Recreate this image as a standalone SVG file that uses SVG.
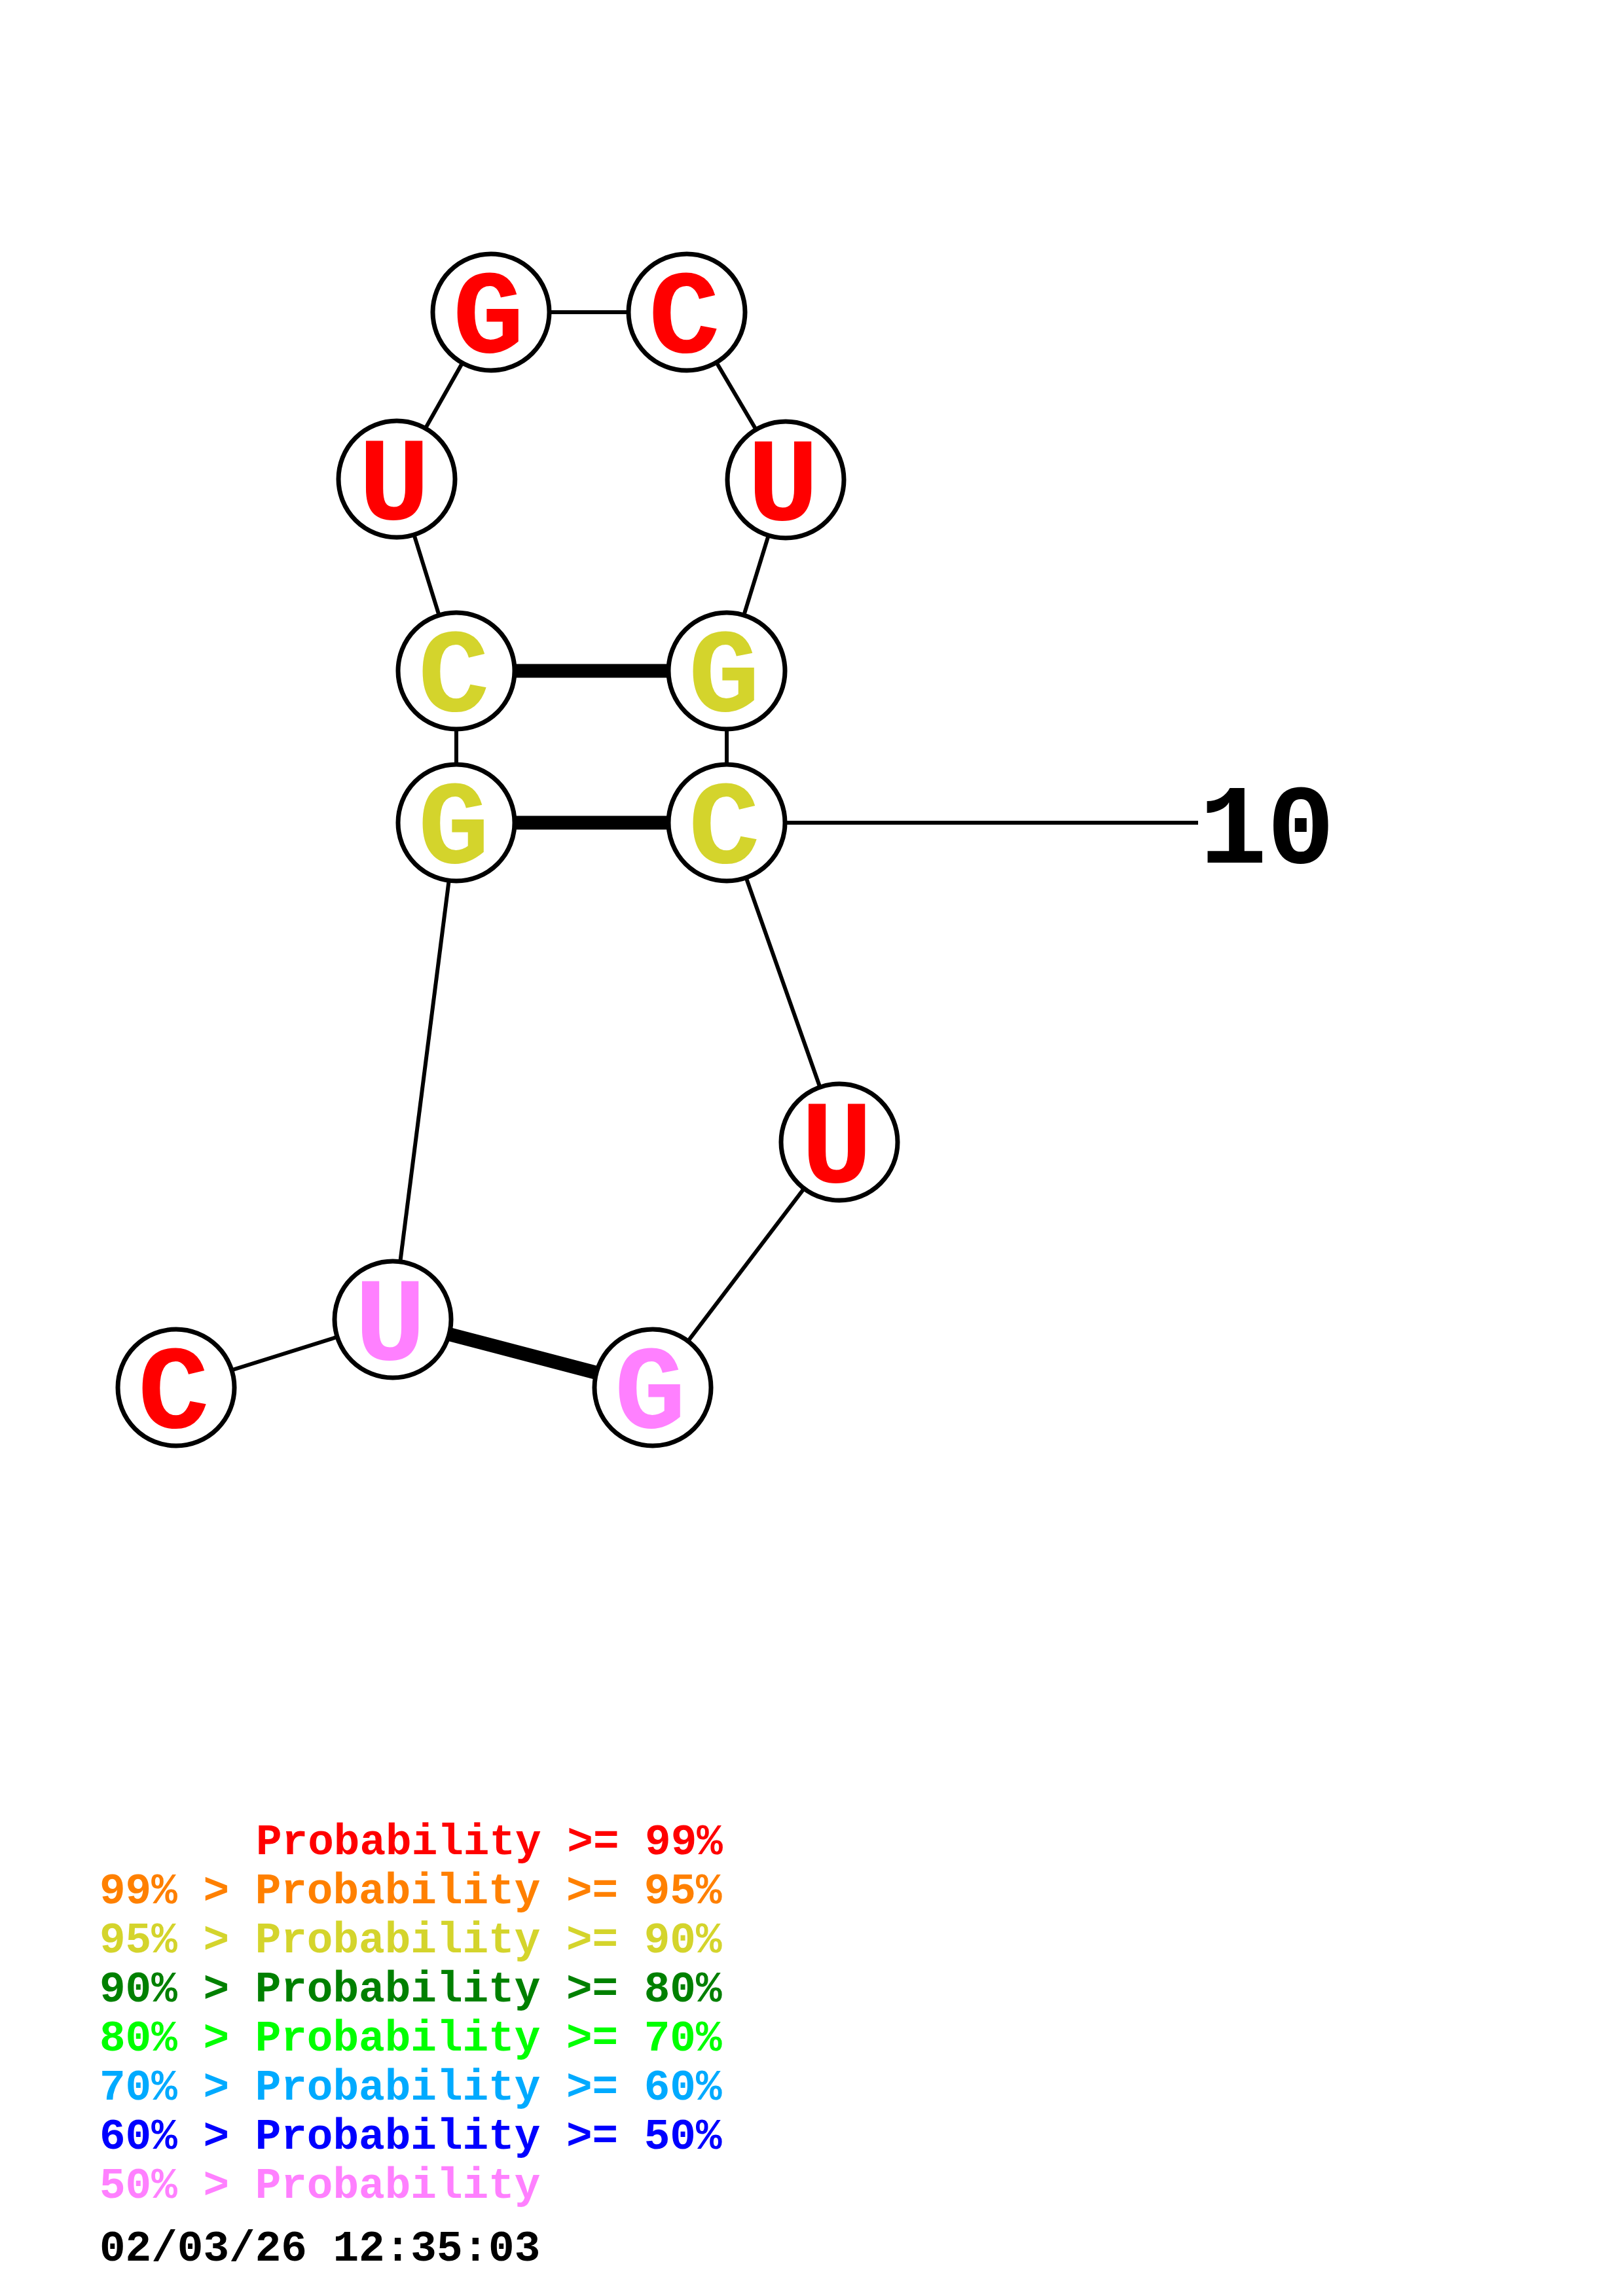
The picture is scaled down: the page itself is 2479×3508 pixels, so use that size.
<svg xmlns="http://www.w3.org/2000/svg" width="2479" height="3508" viewBox="0 0 2479 3508">
<style>
.bb{stroke:#000;stroke-width:6;fill:none}
.bp{stroke:#000;stroke-width:21;fill:none}
.nd{fill:#fff;stroke:#000;stroke-width:7}
.lt{font-family:"Liberation Mono","Courier New",monospace;font-weight:bold;font-size:182px;text-anchor:middle}
.lg{font-family:"Liberation Mono","Courier New",monospace;font-weight:bold;font-size:66px}
.r{fill:#FF0000}.o{fill:#FF8000}.y{fill:#D4D42C}.dg{fill:#008000}.lgn{fill:#00FF00}.sb{fill:#00AAFF}.b{fill:#0000FF}.p{fill:#FF80FF}.k{fill:#000}
</style>
<rect width="2479" height="3508" fill="#fff"/>
<g id="connectors">
<line class="bb" x1="269" y1="2120" x2="600" y2="2016"/>
<line class="bb" x1="600" y1="2016" x2="697" y2="1257"/>
<line class="bb" x1="697" y1="1257" x2="697" y2="1025"/>
<line class="bb" x1="697" y1="1025" x2="606" y2="732"/>
<line class="bb" x1="606" y1="732" x2="750" y2="477"/>
<line class="bb" x1="750" y1="477" x2="1049" y2="477"/>
<line class="bb" x1="1049" y1="477" x2="1200" y2="733"/>
<line class="bb" x1="1200" y1="733" x2="1110" y2="1025"/>
<line class="bb" x1="1110" y1="1025" x2="1110" y2="1257"/>
<line class="bb" x1="1110" y1="1257" x2="1282" y2="1745"/>
<line class="bb" x1="1282" y1="1745" x2="997" y2="2120"/>
<line class="bp" x1="697" y1="1025" x2="1110" y2="1025"/>
<line class="bp" x1="697" y1="1257" x2="1110" y2="1257"/>
<line class="bp" x1="600" y1="2016" x2="997" y2="2120"/>
<line class="bb" x1="1110" y1="1257" x2="1830" y2="1257"/>
</g>
<g id="n1"><circle class="nd" cx="269" cy="2120" r="89"/><text class="lt r" x="265" y="2181">C</text></g>
<g id="n2"><circle class="nd" cx="600" cy="2016" r="89"/><text class="lt p" x="596" y="2077">U</text></g>
<g id="n3"><circle class="nd" cx="697" cy="1257" r="89"/><text class="lt y" x="693" y="1318">G</text></g>
<g id="n4"><circle class="nd" cx="697" cy="1025" r="89"/><text class="lt y" x="693" y="1086">C</text></g>
<g id="n5"><circle class="nd" cx="606" cy="732" r="89"/><text class="lt r" x="602" y="793">U</text></g>
<g id="n6"><circle class="nd" cx="750" cy="477" r="89"/><text class="lt r" x="746" y="538">G</text></g>
<g id="n7"><circle class="nd" cx="1049" cy="477" r="89"/><text class="lt r" x="1045" y="538">C</text></g>
<g id="n8"><circle class="nd" cx="1200" cy="733" r="89"/><text class="lt r" x="1196" y="794">U</text></g>
<g id="n9"><circle class="nd" cx="1110" cy="1025" r="89"/><text class="lt y" x="1106" y="1086">G</text></g>
<g id="n10"><circle class="nd" cx="1110" cy="1257" r="89"/><text class="lt y" x="1106" y="1318">C</text></g>
<g id="n11"><circle class="nd" cx="1282" cy="1745" r="89"/><text class="lt r" x="1278" y="1806">U</text></g>
<g id="n12"><circle class="nd" cx="997" cy="2120" r="89"/><text class="lt p" x="993" y="2181">G</text></g>
<g id="label10"><text class="lg k" x="1832" y="1318" style="font-size:172px">10</text></g>
<g id="legend">
<text class="lg r" x="391" y="2833">Probability &gt;= 99%</text>
<text class="lg o" x="152" y="2908">99% &gt; Probability &gt;= 95%</text>
<text class="lg y" x="152" y="2983">95% &gt; Probability &gt;= 90%</text>
<text class="lg dg" x="152" y="3058">90% &gt; Probability &gt;= 80%</text>
<text class="lg lgn" x="152" y="3133">80% &gt; Probability &gt;= 70%</text>
<text class="lg sb" x="152" y="3208">70% &gt; Probability &gt;= 60%</text>
<text class="lg b" x="152" y="3283">60% &gt; Probability &gt;= 50%</text>
<text class="lg p" x="152" y="3358">50% &gt; Probability</text>
<text class="lg k" x="152" y="3454">02/03/26 12:35:03</text>
</g>
</svg>
